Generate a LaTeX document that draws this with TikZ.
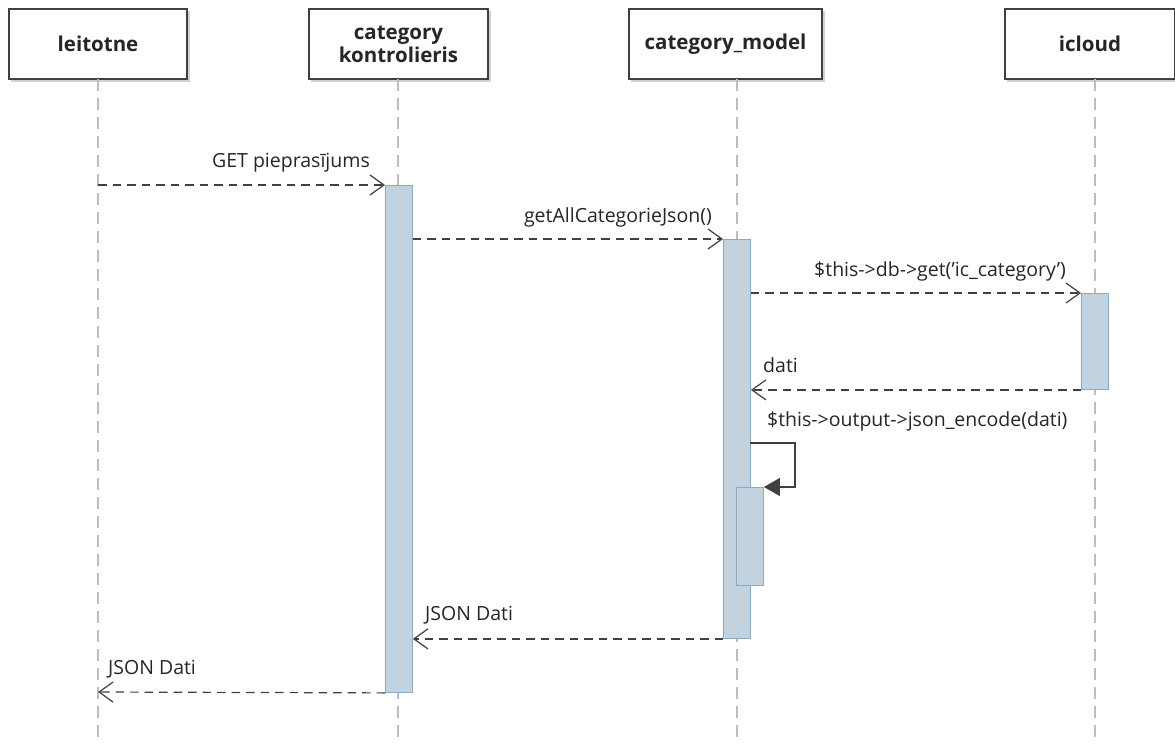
\documentclass[tikz,border=0pt]{standalone}
\usepackage{fontspec}
\setmainfont{Open Sans}
\usetikzlibrary{arrows.meta}
\definecolor{actf}{HTML}{C2D2DF}
\definecolor{actb}{HTML}{8DAAC3}
\definecolor{lifec}{HTML}{BDBDBD}
\definecolor{linec}{HTML}{404040}
\begin{document}
\begin{tikzpicture}[x=1pt,y=-1pt,
  head/.style={draw=linec, line width=1.2pt, fill=white, inner sep=0pt, align=center,
    font=\bfseries\fontsize{20.5}{23}\selectfont, text=black!85},
  hshadow/.style={fill=black!18},
  life/.style={draw=lifec, line width=1.4pt, dash pattern=on 12pt off 7pt},
  act/.style={draw=actb, fill=actf, line width=0.9pt, inner sep=0pt, minimum width=27pt},
  msg/.style={draw=linec, line width=1.2pt, dash pattern=on 8.5pt off 6pt,
    -{Straight Barb[length=14pt,width=20pt,line width=1.2pt]}},
  selfmsg/.style={draw=linec, line width=1.2pt, -{Triangle[length=16pt,width=18pt]}},
  lbl/.style={inner sep=0pt, font=\fontsize{19.5}{22}\selectfont, text=black!85}
]
\fill[white] (0,0) rectangle (1175,744);
\useasboundingbox (0,0) rectangle (1175,744);

% header shadows
\fill[hshadow] (10.5,10.5) rectangle (189.5,81.5);
\fill[hshadow] (310.5,10.5) rectangle (490.5,81.5);
\fill[hshadow] (630.5,10.5) rectangle (824.5,81.5);
\fill[hshadow] (1006.5,10.5) rectangle (1177,81.5);

% headers
\node[head, minimum width=178pt, minimum height=70pt] (h1) at (98,44) {leitotne};
\node[head, minimum width=179pt, minimum height=70pt] (h2) at (398.5,44) {category\\kontrolieris};
\node[head, minimum width=193pt, minimum height=70pt] (h3) at (725.5,44) {category\_model};
\node[head, minimum width=170pt, minimum height=70pt] (h4) at (1090,44) {icloud};

% lifelines
\coordinate (l1t) at (98,79);  \coordinate (l1b) at (98,744);
\coordinate (l2t) at (398,79); \coordinate (l2b) at (398,744);
\coordinate (l3t) at (737,79); \coordinate (l3b) at (737,744);
\coordinate (l4t) at (1095,79);\coordinate (l4b) at (1095,744);
\draw[life] (l1t) -- (l1b);
\draw[life] (l2t) -- (l2b);
\draw[life] (l3t) -- (l3b);
\draw[life] (l4t) -- (l4b);

% activations
\node[act, minimum height=507pt, anchor=north west] (a2) at (385,185) {};
\node[act, minimum height=399pt, anchor=north west] (a3) at (723,239) {};
\node[act, minimum height=96pt, anchor=north west] (a4) at (1081,293) {};
\node[act, minimum height=98pt, anchor=north west] (a5) at (736,487) {};

% messages
\coordinate (s1) at (98,185);
\draw[msg] (s1) -- (a2.north west);
\node[lbl, anchor=base east] at (370,167) {GET pieprasījums};

\draw[msg] (a2.east |- a3.north) -- (a3.north west);
\node[lbl, anchor=base east] at (712,222) {getAllCategorieJson()};

\draw[msg] (a3.east |- a4.north) -- (a4.north west);
\node[lbl, anchor=base east] at (1066,276) {\$this->db->get('ic\_category')};

\draw[msg] (a4.south west) -- (a4.south west -| a3.east);
\node[lbl, anchor=base west] at (763,372) {dati};

\coordinate (sa) at (750,443);
\coordinate (sb) at (795,443);
\coordinate (sc) at (795,487);
\draw[selfmsg] (sa) -- (sb) -- (sc) -- (a5.north east);
\node[lbl, anchor=base west] at (767,426) {\$this->output->json\_encode(dati)};

\draw[msg] (a3.south west) -- (a3.south west -| a2.east);
\node[lbl, anchor=base west] at (425,620) {JSON Dati};

\coordinate (e1) at (98,692);
\draw[msg] (a2.south west) -- (e1);
\node[lbl, anchor=base west] at (108,674) {JSON Dati};
\end{tikzpicture}
\end{document}
